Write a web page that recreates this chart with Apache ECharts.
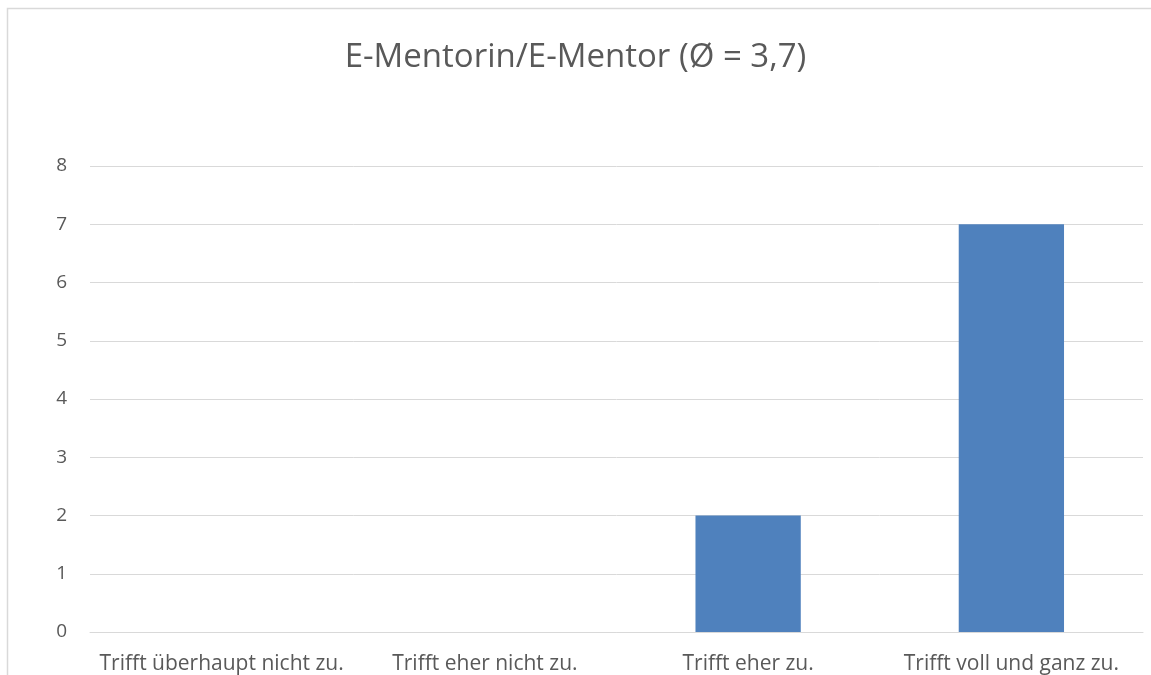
<!DOCTYPE html>
<html>
<head>
<meta charset="utf-8">
<script src="https://cdn.jsdelivr.net/npm/echarts@6/dist/echarts.min.js"></script>
<style>
  html, body { margin: 0; padding: 0; background: #fff; }
  #chart { width: 1151px; height: 675px; }
</style>
</head>
<body>
<div id="chart"></div>
<script>
const categories = ['Trifft überhaupt nicht zu.', 'Trifft eher nicht zu.', 'Trifft eher zu.', 'Trifft voll und ganz zu.'];
const counts = [0, 0, 2, 7];
const yTicks = [0, 1, 2, 3, 4, 5, 6, 7, 8];

const myChart = echarts.init(document.getElementById('chart'));

const option = {
  animation: false,
  textStyle: { fontFamily: 'Open Sans' },
  graphic: [{
    type: 'rect',
    shape: { x: 7.5, y: 8.5, width: 1300, height: 800 },
    style: { fill: 'none', stroke: '#d9d9d9', lineWidth: 1.5 },
    silent: true
  }],
  title: {
    text: 'E-Mentorin/E-Mentor (Ø = 3,7)',
    left: 'center',
    top: 36,
    textStyle: { fontSize: 33, fontWeight: 'normal', color: '#595959', fontFamily: 'Open Sans' }
  },
  grid: { left: 90, right: 8, top: 166, bottom: 43 },
  xAxis: {
    type: 'category',
    data: categories,
    axisLine: { lineStyle: { color: '#d9d9d9' } },
    axisTick: { show: false },
    axisLabel: { color: '#595959', fontSize: 21, margin: 22, interval: 0 }
  },
  yAxis: {
    type: 'value',
    min: yTicks[0],
    max: yTicks[yTicks.length - 1],
    interval: 1,
    axisLine: { show: false },
    axisTick: { show: false },
    axisLabel: { color: '#595959', fontSize: 19, margin: 23 },
    splitLine: { lineStyle: { color: '#d9d9d9', width: 1 } }
  },
  series: [{
    type: 'bar',
    data: counts,
    barCategoryGap: '60%',
    itemStyle: { color: '#4f81bd' }
  }]
};

myChart.setOption(option);
</script>
</body>
</html>
